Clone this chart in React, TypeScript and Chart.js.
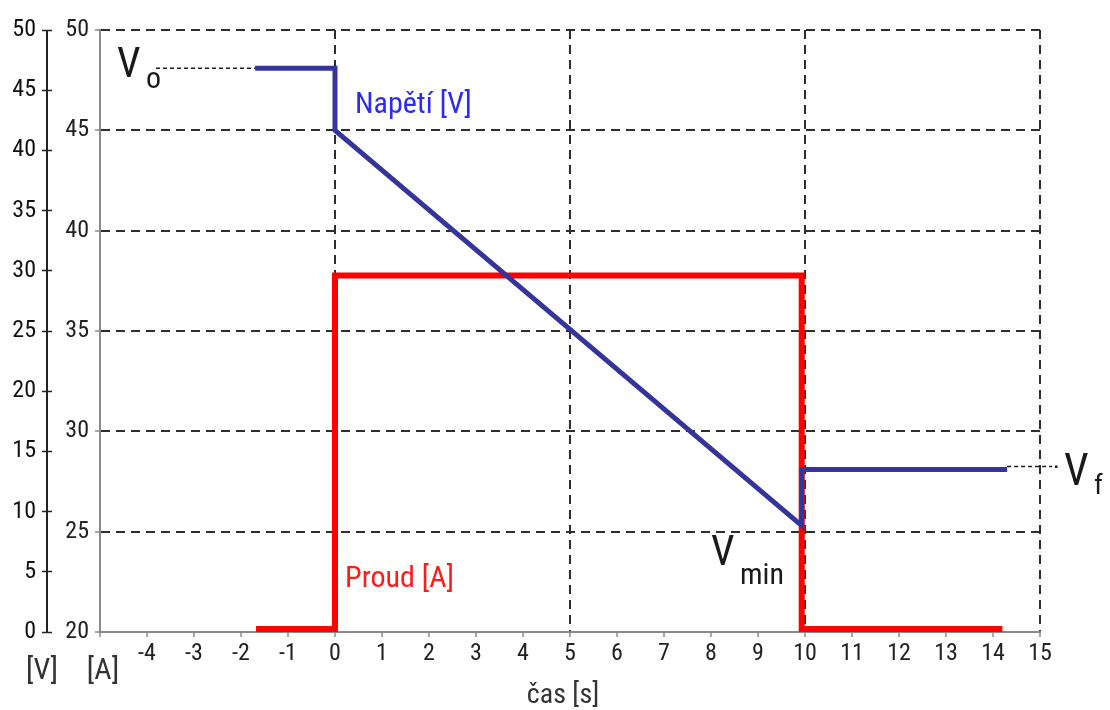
import React, { useEffect, useRef } from 'react';
import { Chart, registerables } from 'chart.js';

Chart.register(...registerables);

// ---- data ----
const timeVoltage = [-1.7, 0, 0, 9.93, 9.93, 14.3];
const voltage = [48.1, 48.1, 45, 25.3, 28.1, 28.1];
const timeCurrent = [-1.68, 0, 0, 9.93, 9.93, 14.2];
const current = [0.25, 0.25, 29.6, 29.6, 0.25, 0.25];

const timeMin = -5;
const timeMax = 15;
const voltageMin = 20;
const voltageMax = 50;
const currentMin = 0;
const currentMax = 50;
const tickStep = 5;
const timeGridValues = [0, 5, 10, 15];

const voltageLabel = 'Napětí [V]';
const currentLabel = 'Proud [A]';
const xTitle = 'čas [s]';
const unitV = '[V]';
const unitA = '[A]';

const FONT = "'Liberation Sans Narrow', 'Arial Narrow', 'Roboto Condensed', 'Liberation Sans', sans-serif";
const BLUE = '#34349a';
const RED = '#ff0000';
const GRID = '#2e2e2e';
const AXIS = '#8a8a8a';

const annotations = {
  id: 'annotations',
  afterDraw(chart: any) {
    const { ctx, scales } = chart;
    const x = scales.x;
    const yV = scales.y;
    const yA = scales.y2;
    ctx.save();

    // outer (left-most) axis line
    ctx.strokeStyle = '#222';
    ctx.lineWidth = 2;
    const ax = yA.right - 5;
    ctx.beginPath();
    ctx.moveTo(ax, yA.getPixelForValue(currentMax));
    ctx.lineTo(ax, yA.getPixelForValue(currentMin));
    ctx.stroke();

    // leader lines
    ctx.lineWidth = 1.5;
    ctx.strokeStyle = '#1a1a1a';
    ctx.setLineDash([4, 3]);
    const v0y = yV.getPixelForValue(voltage[0]);
    ctx.beginPath();
    ctx.moveTo(156, v0y);
    ctx.lineTo(x.getPixelForValue(timeVoltage[0]), v0y);
    ctx.stroke();
    const vfy = yV.getPixelForValue(voltage[voltage.length - 1]) - 3;
    ctx.beginPath();
    ctx.moveTo(x.getPixelForValue(timeVoltage[timeVoltage.length - 1]), vfy);
    ctx.lineTo(1052, vfy);
    ctx.stroke();
    ctx.setLineDash([]);
    ctx.fillStyle = '#1a1a1a';
    ctx.fillRect(1055, vfy - 1, 2.5, 2.5);

    const text = (s: string, px: number, left: number, base: number, color: string, align = 'left') => {
      ctx.font = `${px}px ${FONT}`;
      ctx.fillStyle = color;
      ctx.textAlign = align;
      ctx.textBaseline = 'alphabetic';
      ctx.fillText(s, left, base);
    };

    // V0
    text('V', 42, 117, 77, '#1a1a1a');
    text('o', 30, 146, 88, '#1a1a1a');
    // Vmin
    text('V', 42, 711, 565, '#1a1a1a');
    text('min', 30, 740, 584, '#1a1a1a');
    // Vf
    text('V', 44, 1064, 485, '#1a1a1a');
    text('f', 28, 1094, 494, '#1a1a1a');

    text(voltageLabel, 30, 355, 113, '#2b2bf2');
    text(currentLabel, 30, 345, 587, '#ff1a1a');

    text(xTitle, 28, 563, 703, '#333', 'center');
    text(unitV, 30, 42, 679, '#333', 'center');
    text(unitA, 30, 103, 679, '#333', 'center');

    ctx.restore();
  },
};

export default function App() {
  const canvasRef = useRef<HTMLCanvasElement | null>(null);

  useEffect(() => {
    if (!canvasRef.current) return;
    const chart = new Chart(canvasRef.current, {
      type: 'line',
      data: {
        datasets: [
          {
            label: voltageLabel,
            data: timeVoltage.map((t, i) => ({ x: t, y: voltage[i] })),
            yAxisID: 'y',
            borderColor: BLUE,
            borderWidth: 5,
            pointRadius: 0,
            tension: 0,
            borderJoinStyle: 'miter',
            borderCapStyle: 'butt',
            fill: false,
          },
          {
            label: currentLabel,
            data: timeCurrent.map((t, i) => ({ x: t, y: current[i] })),
            yAxisID: 'y2',
            borderColor: RED,
            borderWidth: 6,
            pointRadius: 0,
            tension: 0,
            borderJoinStyle: 'miter',
            borderCapStyle: 'butt',
            fill: false,
          },
        ],
      },
      options: {
        animation: false,
        responsive: true,
        maintainAspectRatio: false,
        layout: { padding: { left: 0, right: 70, top: 30, bottom: 38 } },
        plugins: { legend: { display: false }, tooltip: { enabled: false } },
        scales: {
          x: {
            type: 'linear',
            position: 'bottom',
            min: timeMin,
            max: timeMax,
            afterFit: (s: any) => { s.height = 40; },
            ticks: {
              stepSize: 1,
              autoSkip: false,
              maxRotation: 0,
              padding: 3,
              color: '#222',
              font: { family: FONT, size: 24 },
              callback: (v: any) => (v === timeMin ? '' : String(v)),
            },
            grid: {
              color: (c: any) => (timeGridValues.includes(c.tick?.value) ? GRID : 'rgba(0,0,0,0)'),
              lineWidth: 2,
              tickColor: AXIS,
              tickLength: 5,
              tickWidth: 1.5,
            },
            border: { display: true, color: AXIS, width: 2, dash: [9, 6] },
          },
          y: {
            type: 'linear',
            position: 'left',
            weight: 0,
            min: voltageMin,
            max: voltageMax,
            afterFit: (s: any) => { s.width = 48; },
            ticks: {
              stepSize: tickStep,
              padding: 6,
              color: '#222',
              font: { family: FONT, size: 24 },
            },
            grid: {
              color: (c: any) => (c.tick && c.tick.value > voltageMin ? GRID : 'rgba(0,0,0,0)'),
              lineWidth: 2,
              tickColor: AXIS,
              tickLength: 5,
              tickWidth: 1.5,
            },
            border: { display: true, color: AXIS, width: 2, dash: [9, 6] },
          },
          y2: {
            type: 'linear',
            position: 'left',
            weight: 1,
            min: currentMin,
            max: currentMax,
            afterFit: (s: any) => { s.width = 52; },
            ticks: {
              stepSize: tickStep,
              padding: 6,
              color: '#111',
              font: { family: FONT, size: 24 },
            },
            grid: {
              drawOnChartArea: false,
              color: '#222',
              tickColor: '#222',
              tickLength: 10,
              tickWidth: 1.5,
            },
            border: { display: false },
          },
        },
      },
      plugins: [annotations],
    } as any);
    return () => chart.destroy();
  }, []);

  return (
    <div style={{ position: 'absolute', left: 0, top: 0, width: 1110, height: 710, background: '#fff' }}>
      <canvas ref={canvasRef} />
    </div>
  );
}
